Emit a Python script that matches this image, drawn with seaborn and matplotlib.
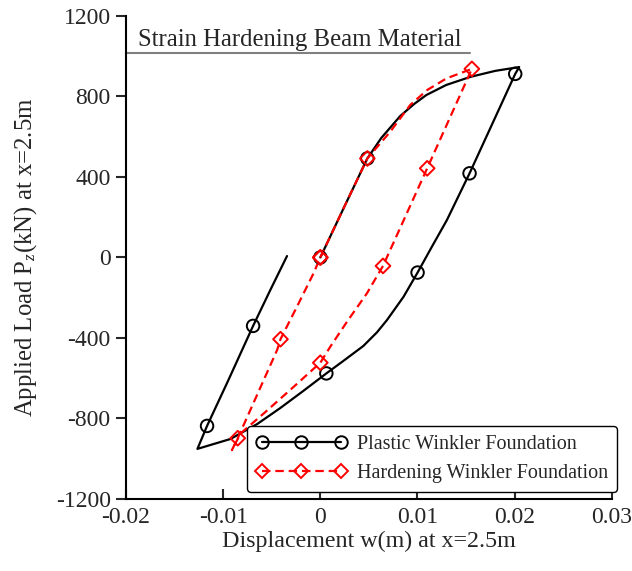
import numpy as np
import pandas as pd
import matplotlib
matplotlib.use("Agg")
import matplotlib.pyplot as plt
from matplotlib.lines import Line2D
import seaborn as sns

# ---- data ----
plastic_x = [0.0, 0.0024, 0.00484, 0.00628, 0.00823, 0.00967, 0.01091, 0.01296, 0.01543,
             0.0180, 0.02047, 0.02006, 0.01852, 0.01536, 0.01303, 0.01149, 0.01001, 0.00857,
             0.00686, 0.00583, 0.00442, 0.00237, 0.00062, -0.00175, -0.00412, -0.00648,
             -0.00926, -0.01265, -0.01166, -0.00946, -0.00692, -0.00514, -0.00343]
plastic_y = [0, 245, 492, 594, 703, 763, 807, 857, 897,
             927, 946, 912, 750, 418, 186, 54, -75, -195,
             -311, -372, -440, -514, -576, -663, -748, -827,
             -902, -951, -837, -609, -340, -161, 7]
plastic_marks = [0, 2, 11, 13, 16, 22, 28, 30]

harden_x = [0.0, 0.0024, 0.00484, 0.0072, 0.00926, 0.0110, 0.0130, 0.0156, 0.0110, 0.00645,
            0.0048, 0.00275, 0.00103, 0.0, -0.0031, -0.0058, -0.0082, -0.0091, -0.0085,
            -0.00445, -0.0041, -0.0024, -0.0007, 0.0]
harden_y = [0, 245, 492, 625, 758, 832, 890, 937, 443, -42,
            -178, -319, -443, -523, -658, -774, -874, -957, -898,
            -460, -406, -244, -79, 0]
harden_marks = [0, 2, 7, 8, 9, 13, 18, 20, 23]

series_labels = ["Plastic Winkler Foundation", "Hardening Winkler Foundation"]
x_ticks = [-0.02, -0.01, 0, 0.01, 0.02, 0.03]
x_ticklabels = ["-0.02", "-0.01", "0", "0.01", "0.02", "0.03"]
y_ticks = [-1200, -800, -400, 0, 400, 800, 1200]
y_ticklabels = ["-1200", "-800", "-400", "0", "400", "800", "1200"]
title_text = "Strain Hardening Beam Material"
x_label = "Displacement w(m) at x=2.5m"
y_label = r"Applied Load P$_{z}$(kN) at x=2.5m"

# ---- style ----
sns.set_style("ticks")
plt.rcParams["font.family"] = ["Liberation Serif", "DejaVu Serif"]
plt.rcParams["mathtext.fontset"] = "custom"
plt.rcParams["mathtext.rm"] = "Liberation Serif"
plt.rcParams["mathtext.it"] = "Liberation Serif:italic"
plt.rcParams["axes.unicode_minus"] = False

fig = plt.figure(figsize=(6.32, 5.71), dpi=100)
ax = fig.add_axes([0.1994, 0.1261, 0.7686, 0.846])

df_p = pd.DataFrame({"x": plastic_x, "y": plastic_y})
df_h = pd.DataFrame({"x": harden_x, "y": harden_y})

sns.lineplot(data=df_p, x="x", y="y", sort=False, estimator=None, ax=ax,
             color="black", linewidth=1.6, legend=False)
sns.lineplot(data=df_h, x="x", y="y", sort=False, estimator=None, ax=ax,
             color="#ff0000", linewidth=1.6, legend=False)
ax.lines[-1].set_dashes((3.8, 2.2))

ms = 9
dms = 7.5
sns.scatterplot(x=df_p["x"].iloc[plastic_marks], y=df_p["y"].iloc[plastic_marks], ax=ax,
                marker="o", s=ms ** 2, facecolors="none", edgecolor="black",
                linewidth=1.4, legend=False, zorder=3)
sns.scatterplot(x=df_h["x"].iloc[harden_marks], y=df_h["y"].iloc[harden_marks], ax=ax,
                marker="D", s=dms ** 2, facecolors="none", edgecolor="#ff0000",
                linewidth=1.4, legend=False, zorder=3)

ax.set_xlim(-0.02, 0.03)
ax.set_ylim(-1200, 1200)
ax.set_xticks(x_ticks)
ax.set_xticklabels(x_ticklabels)
ax.set_yticks(y_ticks)
ax.set_yticklabels(y_ticklabels)
ax.tick_params(axis="x", direction="in", length=7, width=1.5, labelsize=17, pad=6)
ax.tick_params(axis="y", direction="out", length=7, width=1.5, labelsize=17, pad=4)
for s in ["top", "right"]:
    ax.spines[s].set_visible(False)
for s in ["left", "bottom"]:
    ax.spines[s].set_linewidth(1.5)
    ax.spines[s].set_color("black")

ax.set_xlabel(x_label, fontsize=17.3, labelpad=2)
ax.set_ylabel(y_label, fontsize=17.8, labelpad=12)

# title with underline
ax.text(0.0247, 0.950, title_text, transform=ax.transAxes, fontsize=17.8,
        ha="left", va="center")
ax.plot([0.0, 0.708], [0.923, 0.923], transform=ax.transAxes, color="#808080",
        linewidth=1.5, clip_on=False)

handles = [
    Line2D([], [], color="black", linewidth=1.6, marker="o", markersize=ms,
           markerfacecolor="none", markeredgecolor="black", markeredgewidth=1.4),
    Line2D([], [], color="#ff0000", linewidth=1.6, linestyle=(0, (3.8, 2.2)), marker="D",
           markersize=dms, markerfacecolor="none", markeredgecolor="#ff0000",
           markeredgewidth=1.4),
]
leg = ax.legend(handles, series_labels, loc="lower right",
                bbox_to_anchor=(0.976, 0.138), bbox_transform=fig.transFigure,
                borderaxespad=0, fontsize=14.5, numpoints=3, handlelength=4.5,
                frameon=True, fancybox=True, edgecolor="black", framealpha=1,
                borderpad=0.45, labelspacing=0.5, handletextpad=0.5)
leg.get_frame().set_linewidth(1.0)

fig.savefig("out.png", dpi=100)
